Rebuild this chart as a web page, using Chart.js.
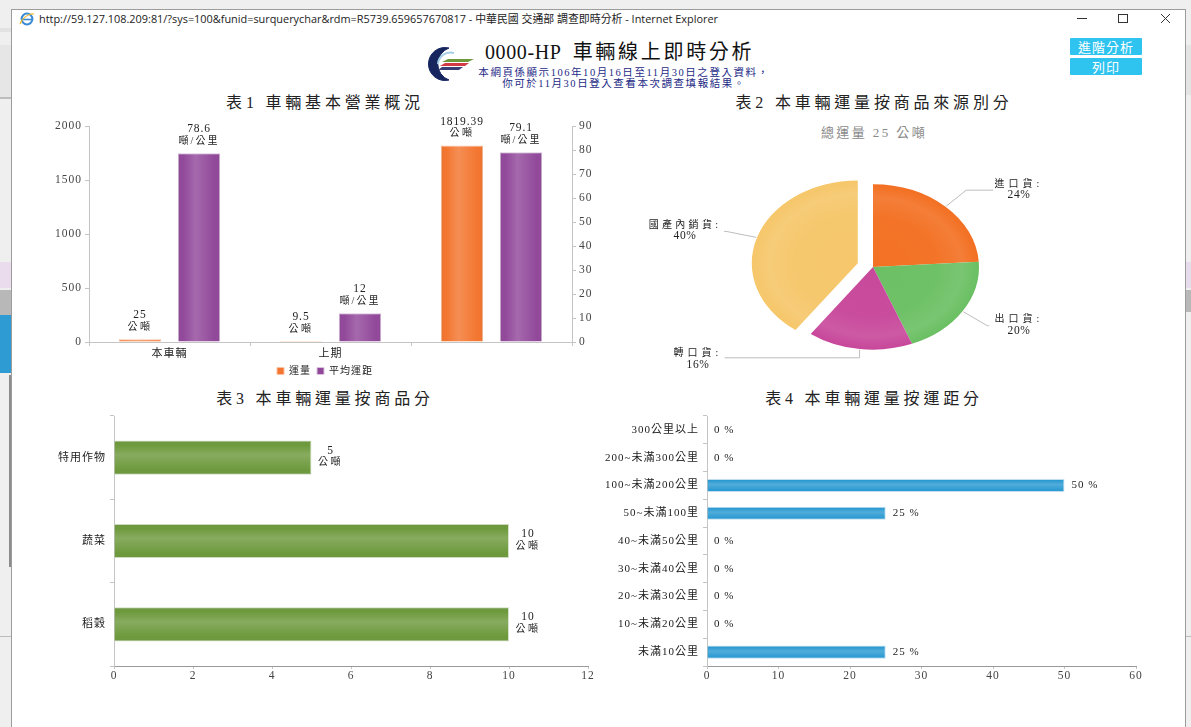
<!DOCTYPE html>
<html lang="zh-Hant"><head><meta charset="utf-8"><title>0000-HP 車輛線上即時分析</title>
<script src="https://cdn.jsdelivr.net/npm/chart.js@4"></script>
<style>
html,body{margin:0;padding:0;background:#fff;overflow:hidden}
#page{position:relative;width:1191px;height:727px;overflow:hidden;background:#fff;font-family:"Liberation Serif","Noto Sans CJK TC",serif;filter:blur(.35px)}
.abs{position:absolute}
.strip{position:absolute;left:0;width:11px}
.rstrip{position:absolute;left:1186px;width:5px}
canvas{position:absolute}
.h{position:absolute;text-align:center;transform:translateX(-50%);white-space:nowrap;color:#222;font-size:16px;letter-spacing:3.8px;line-height:18px}
.btn{position:absolute;left:1070px;width:72px;height:17px;background:#2fc3ef;color:#fff;text-align:center;font:13px/17px "Noto Sans CJK TC",sans-serif;letter-spacing:1px;border-radius:1px}
</style></head><body>
<div id="page">
<div class="abs" style="left:0;top:0;width:1191px;height:727px;background:#efefef"></div>
<div class="strip" style="top:28px;height:4px;background:#e2e2e2"></div>
<div class="strip" style="top:45px;height:52px;background:#e6e6e6"></div>
<div class="strip" style="top:97px;height:2px;background:#bdbdbd"></div>
<div class="strip" style="top:262px;height:26px;background:#eadcec"></div>
<div class="strip" style="top:290px;height:25px;background:#b8b8b8"></div>
<div class="strip" style="top:315px;height:58px;background:#2e9bd2"></div>
<div class="strip" style="left:9px;width:2px;top:375px;height:192px;background:#8c8c8c"></div>
<div class="strip" style="top:636px;height:1px;background:#bbb"></div>
<div class="rstrip" style="top:45px;height:50px;background:#e4e4e4"></div>
<div class="rstrip" style="top:262px;height:26px;background:#e6dcec"></div>
<div class="rstrip" style="top:290px;height:22px;background:#b8b8b8"></div>
<div class="rstrip" style="top:636px;height:1px;background:#bbb"></div>
<div class="abs" style="left:11px;top:9px;width:1173px;height:718px;background:#fff;border:1px solid #9c9c9c;border-bottom:none"></div>

<svg class="abs" style="left:19px;top:12px" width="16" height="14" viewBox="0 0 16 14">
<ellipse cx="8" cy="7" rx="5.4" ry="5.4" fill="none" stroke="#3a8ad6" stroke-width="2"/>
<path d="M3 7.5h10" stroke="#3a8ad6" stroke-width="1.6"/><path d="M1 12C3 6 10 1 15 2" fill="none" stroke="#e8b92f" stroke-width="1.2"/></svg>
<div class="abs" style="left:39px;top:11px;font:10.9px/15px 'Open Sans','Noto Sans CJK TC',sans-serif;color:#222;white-space:nowrap">http://59.127.108.209:81/?sys=100&amp;funid=surquerychar&amp;rdm=R5739.659657670817 - 中華民國 交通部 調查即時分析 - Internet Explorer</div>
<svg class="abs" style="left:1070px;top:10px" width="105" height="16" viewBox="0 0 105 16" fill="none" stroke="#333" stroke-width="1">
<path d="M7 8.5h10"/><rect x="48.5" y="4.5" width="9" height="8"/><path d="M91 4l9 9M100 4l-9 9"/></svg>

<svg class="abs" style="left:424px;top:46px" width="52" height="36" viewBox="0 0 52 36">
<path d="M25 2A16.5 16.5 0 1 0 25 34A17 17 0 0 1 25 2Z" fill="#17255f" stroke="#17255f" stroke-width="1"/>
<path d="M14 18A12.5 12.5 0 0 1 30 7" fill="none" stroke="#a8cfe8" stroke-width="2"/>
<path d="M18 16L24 13H50L44 16Z" fill="#6f9a3c"/><path d="M16 20L21 17H45L41 20Z" fill="#d23b45"/><path d="M14 24L18 21H39L35 24Z" fill="#3b3f78"/>
</svg>
<div class="abs" style="left:485px;top:40px;font-size:20px;line-height:24px;color:#111;white-space:nowrap;letter-spacing:.6px">0000-HP&nbsp; <span style="letter-spacing:2.7px">車輛線上即時分析</span></div>
<div class="abs" style="left:624px;top:66.5px;transform:translateX(-50%);text-align:center;font-size:10.5px;line-height:11.5px;color:#1d2a86;white-space:nowrap;letter-spacing:1.55px">本網頁係顯示106年10月16日至11月30日之登入資料，<br>你可於11月30日登入查看本次調查填報結果。</div>
<div class="btn" style="top:38px">進階分析</div>
<div class="btn" style="top:58px">列印</div>

<div class="h" style="left:325px;top:94px">表1 車輛基本營業概況</div>
<div class="h" style="left:874px;top:94px">表2 本車輛運量按商品來源別分</div>
<div class="h" style="left:325px;top:390px">表3 本車輛運量按商品分</div>
<div class="h" style="left:874px;top:390px">表4 本車輛運量按運距分</div>
<div class="h" style="left:874px;top:124px;font-size:13px;letter-spacing:2.4px;color:#8a8a8a">總運量 25 公噸</div>

<canvas id="c1" style="left:40px;top:112px" width="570" height="274"></canvas>
<canvas id="c2" style="left:640px;top:150px" width="420" height="235"></canvas>
<canvas id="c3" style="left:40px;top:405px" width="570" height="285"></canvas>
<canvas id="c4" style="left:595px;top:405px" width="580" height="285"></canvas>
</div>
<script>
// ---- data ----
const basicCategories = ['本車輛', '上期', ''];
const volumeName = '運量';
const distanceName = '平均運距';
const volumeValues = [25, 9.5, 1819.39];
const distanceValues = [78.6, 12, 79.1];
const volumeUnit = '公噸';
const distanceUnit = '噸/公里';
const volumeTicks = [0, 500, 1000, 1500, 2000];
const distanceTicks = [0, 10, 20, 30, 40, 50, 60, 70, 80, 90];

const sourceCategories = ['進口貨', '出口貨', '轉口貨', '國產內銷貨'];
const sourceValues = [24, 20, 16, 40];

const goodsCategories = ['特用作物', '蔬菜', '稻穀'];
const goodsValues = [5, 10, 10];

const rangeCategories = ['300公里以上', '200~未滿300公里', '100~未滿200公里', '50~未滿100里', '40~未滿50公里', '30~未滿40公里', '20~未滿30公里', '10~未滿20公里', '未滿10公里'];
const rangeValues = [0, 0, 50, 25, 0, 0, 0, 0, 25];

// ---- styling ----
const FONT = '"Liberation Serif","Noto Sans CJK TC",serif';
const AXIS = '#c4c4c4', TICK = '#444', TEXT = '#222';
Chart.defaults.animation = false;
Chart.defaults.responsive = false;
Chart.defaults.font.family = FONT;

function txt(ctx, s, x, y, size, align, spacing) {
  ctx.save();
  ctx.letterSpacing = (spacing || 0) + 'px';
  ctx.font = size + 'px ' + FONT;
  ctx.fillStyle = TEXT;
  ctx.textAlign = align || 'center';
  ctx.textBaseline = 'middle';
  ctx.fillText(s, x, y);
  ctx.restore();
}
function fixedWidth(w) { return s => { s.width = w; }; }
function fixedHeight(h) { return s => { s.height = h; }; }

// axis and legend text is spaced like the wide-set type of the original
const wideText = {
  id: 'wideText',
  beforeUpdate(chart) { chart.ctx.letterSpacing = '1px'; },
  beforeDraw(chart) { chart.ctx.letterSpacing = '1px'; }
};

// soft highlight along the middle of every bar, using the bar geometry from the library
const barSheen = {
  id: 'barSheen',
  afterDatasetsDraw(chart) {
    const ctx = chart.ctx, horiz = chart.options.indexAxis === 'y';
    chart.data.datasets.forEach((d, i) => {
      chart.getDatasetMeta(i).data.forEach(el => {
        const p = el.getProps(['x', 'y', 'base', 'width', 'height'], true);
        let x0, y0, w, h;
        if (horiz) { x0 = Math.min(p.base, p.x); w = Math.abs(p.x - p.base); y0 = p.y - p.height / 2; h = p.height; }
        else { x0 = p.x - p.width / 2; w = p.width; y0 = Math.min(p.y, p.base); h = Math.abs(p.base - p.y); }
        if (w < 1 || h < 1) return;
        const g = horiz ? ctx.createLinearGradient(0, y0, 0, y0 + h) : ctx.createLinearGradient(x0, 0, x0 + w, 0);
        g.addColorStop(0, 'rgba(0,0,0,.08)');
        g.addColorStop(.12, 'rgba(255,255,255,0)');
        g.addColorStop(.42, 'rgba(255,255,255,.18)');
        g.addColorStop(.88, 'rgba(255,255,255,0)');
        g.addColorStop(1, 'rgba(0,0,0,.08)');
        ctx.fillStyle = g;
        ctx.fillRect(x0 + .5, y0 + .5, w - 1, h - 1);
      });
    });
  }
};

const barLabels = {
  id: 'barLabels',
  afterDatasetsDraw(chart) {
    const ctx = chart.ctx, units = [volumeUnit, distanceUnit], gaps = [2.5, 2];
    chart.data.datasets.forEach((d, i) => {
      chart.getDatasetMeta(i).data.forEach((el, j) => {
        txt(ctx, String(d.data[j]), el.x, el.y - 24, 11.5, 'center', .9);
        txt(ctx, units[i], el.x, el.y - 12, 10, 'center', gaps[i]);
      });
    });
  }
};
const goodsLabels = {
  id: 'goodsLabels',
  afterDatasetsDraw(chart) {
    const ctx = chart.ctx;
    chart.getDatasetMeta(0).data.forEach((el, j) => {
      txt(ctx, String(goodsValues[j]), el.x + 19, el.y - 7, 11.5, 'center', .9);
      txt(ctx, volumeUnit, el.x + 19, el.y + 5, 10, 'center', 2.5);
    });
  }
};
const rangeLabels = {
  id: 'rangeLabels',
  afterDatasetsDraw(chart) {
    const ctx = chart.ctx;
    chart.getDatasetMeta(0).data.forEach((el, j) => {
      txt(ctx, rangeValues[j] + ' %', el.x + 7, el.y, 11, 'left', 1);
    });
  }
};

// 1 — vehicle overview
new Chart(document.getElementById('c1'), {
  type: 'bar',
  data: { labels: basicCategories, datasets: [
    { label: volumeName, data: volumeValues, yAxisID: 'y', backgroundColor: '#f3752f', borderColor: '#f9c3a4', borderWidth: 1, categoryPercentage: .733, barPercentage: .72 },
    { label: distanceName, data: distanceValues, yAxisID: 'y2', backgroundColor: '#91489a', borderColor: '#d9c3dd', borderWidth: 1, categoryPercentage: .733, barPercentage: .72 }
  ]},
  options: {
    layout: { padding: { top: 14 } },
    plugins: {
      title: { display: false }, tooltip: { enabled: false },
      legend: { position: 'bottom', labels: { boxWidth: 7, boxHeight: 7, padding: 6, font: { size: 10 }, color: TEXT } }
    },
    scales: {
      x: { afterFit: fixedHeight(18), grid: { drawOnChartArea: false, color: AXIS, tickLength: 4 }, border: { color: AXIS }, ticks: { color: TEXT, font: { size: 11 }, padding: 2 } },
      y: { min: volumeTicks[0], max: volumeTicks[volumeTicks.length - 1], afterFit: fixedWidth(49), afterBuildTicks: a => { a.ticks = volumeTicks.map(v => ({ value: v })); }, grid: { drawOnChartArea: false, color: AXIS, tickLength: 4 }, border: { color: AXIS }, ticks: { color: TICK, font: { size: 11.5 }, padding: 3, callback: v => String(v) } },
      y2: { position: 'right', min: distanceTicks[0], max: distanceTicks[distanceTicks.length - 1], afterFit: fixedWidth(38), afterBuildTicks: a => { a.ticks = distanceTicks.map(v => ({ value: v })); }, grid: { drawOnChartArea: false, color: AXIS, tickLength: 4 }, border: { color: AXIS }, ticks: { color: TICK, font: { size: 11.5 }, padding: 3, callback: v => String(v) } }
    }
  },
  plugins: [wideText, barSheen, barLabels]
});

// 2 — pie, drawn with a flattened perspective
const SQUASH = 0.78;
const pieExplode = [0, 0, 0, 16];
const calloutBends = [[20, -16, 27], [24, 14, 2], [0, 8, -135], [-30, -6, -2]];
const calloutText = [[1019, 34, 45], [1019, 169, 181], [698, 203, 215], [685, 75, 86]];
const calloutSpacing = [4, 4, 4, 3.3];
const piePerspective = {
  id: 'piePerspective',
  afterDatasetUpdate(chart, args) {
    // pull slices out along their bisector, moving the library's own arc elements
    chart.getDatasetMeta(args.index).data.forEach((el, i) => {
      const mid = (el.startAngle + el.endAngle) / 2;
      el.centerX = el.x; el.centerY = el.y;
      el.x += Math.cos(mid) * pieExplode[i];
      el.y += Math.sin(mid) * pieExplode[i];
    });
  },
  beforeDatasetsDraw(chart) {
    const el = chart.getDatasetMeta(0).data[0], ctx = chart.ctx;
    ctx.save();
    ctx.translate(el.centerX, el.centerY); ctx.scale(1, SQUASH); ctx.translate(-el.centerX, -el.centerY);
  },
  afterDatasetsDraw(chart) {
    const ctx = chart.ctx, arcs = chart.getDatasetMeta(0).data;
    arcs.forEach(el => {
      const cx = el.x, cy = el.y, r = el.outerRadius;
      const g = ctx.createRadialGradient(cx, cy, 0, cx, cy, r);
      g.addColorStop(0, 'rgba(255,255,255,0)');
      g.addColorStop(.6, 'rgba(255,255,255,.02)');
      g.addColorStop(.84, 'rgba(255,255,255,.09)');
      g.addColorStop(.98, 'rgba(255,255,255,0)');
      ctx.beginPath(); ctx.moveTo(cx, cy); ctx.arc(cx, cy, r, el.startAngle, el.endAngle); ctx.closePath();
      ctx.fillStyle = g; ctx.fill();
    });
    ctx.restore();
    // callouts from each slice's mid-angle
    arcs.forEach((el, i) => {
      const mid = (el.startAngle + el.endAngle) / 2;
      const r = el.outerRadius + 1 + pieExplode[i];
      const sx = el.centerX + Math.cos(mid) * r, sy = el.centerY + Math.sin(mid) * r * SQUASH;
      const b = calloutBends[i];
      ctx.beginPath(); ctx.moveTo(sx, sy); ctx.lineTo(sx + b[0], sy + b[1]); ctx.lineTo(sx + b[0] + b[2], sy + b[1]);
      ctx.strokeStyle = '#bdbdbd'; ctx.lineWidth = 1; ctx.stroke();
      const t = calloutText[i];
      txt(ctx, sourceCategories[i] + ':', t[0] - 640, t[1], 10, 'center', calloutSpacing[i]);
      txt(ctx, sourceValues[i] + '%', t[0] - 640, t[2], 11.5, 'center', .6);
    });
  }
};
new Chart(document.getElementById('c2'), {
  type: 'pie',
  data: { labels: sourceCategories, datasets: [{
    data: sourceValues,
    backgroundColor: ['#f37124', '#6cc064', '#c8499b', '#f6c76b'],
    borderWidth: 0
  }]},
  options: {
    radius: 106,
    layout: { padding: { left: 46, bottom: 1 } },
    plugins: { legend: { display: false }, tooltip: { enabled: false } }
  },
  plugins: [piePerspective]
});

// 3 — by commodity
new Chart(document.getElementById('c3'), {
  type: 'bar',
  data: { labels: goodsCategories, datasets: [{ data: goodsValues, backgroundColor: '#6d993c', borderColor: '#d5e2c6', borderWidth: 1, categoryPercentage: .41, barPercentage: 1 }] },
  options: {
    indexAxis: 'y',
    layout: { padding: { top: 11, right: 22 } },
    plugins: { legend: { display: false }, tooltip: { enabled: false } },
    scales: {
      x: { min: 0, max: 12, afterFit: fixedHeight(24), ticks: { stepSize: 2, color: TICK, font: { size: 11.5 }, padding: 0 }, grid: { drawOnChartArea: false, color: AXIS, tickLength: 3 }, border: { color: '#999' } },
      y: { afterFit: fixedWidth(74), ticks: { color: TEXT, font: { size: 11 }, padding: 4 }, grid: { drawOnChartArea: false, color: AXIS, tickLength: 4 }, border: { color: AXIS } }
    }
  },
  plugins: [wideText, barSheen, goodsLabels]
});

// 4 — by distance
new Chart(document.getElementById('c4'), {
  type: 'bar',
  data: { labels: rangeCategories, datasets: [{ data: rangeValues, backgroundColor: '#2b9ad2', borderColor: '#c5e3f3', borderWidth: c => (c.raw ? 1 : 0), categoryPercentage: .47, barPercentage: 1 }] },
  options: {
    indexAxis: 'y',
    layout: { padding: { top: 11, right: 39 } },
    plugins: { legend: { display: false }, tooltip: { enabled: false } },
    scales: {
      x: { min: 0, max: 60, afterFit: fixedHeight(24), ticks: { stepSize: 10, color: TICK, font: { size: 11.5 }, padding: 0 }, grid: { drawOnChartArea: false, color: AXIS, tickLength: 3 }, border: { color: '#999' } },
      y: { afterFit: fixedWidth(112), ticks: { color: TEXT, font: { size: 11 }, padding: 4, autoSkip: false }, grid: { drawOnChartArea: false, color: AXIS, tickLength: 4 }, border: { color: AXIS } }
    }
  },
  plugins: [wideText, barSheen, rangeLabels]
});
</script>
</body></html>
